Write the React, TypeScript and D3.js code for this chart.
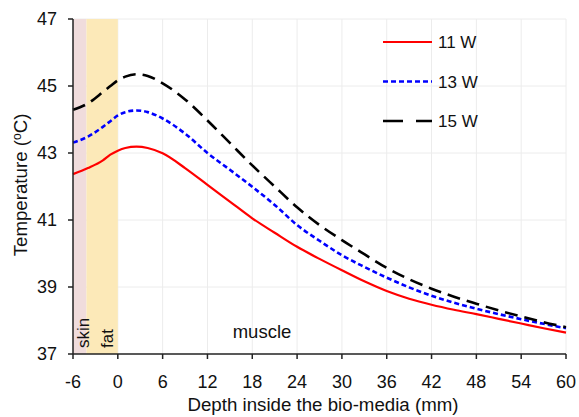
import React from "react";
import * as d3 from "d3";

const depths = [-6, -4, -2, -1, 0, 1, 2.5, 4, 6, 9, 12, 15, 18, 21, 24, 27, 30, 33, 36, 39, 42, 45, 48, 51, 54, 57, 60];
const w11 = [42.37, 42.55, 42.78, 42.95, 43.07, 43.15, 43.19, 43.15, 42.99, 42.55, 42.05, 41.55, 41.05, 40.62, 40.2, 39.84, 39.5, 39.17, 38.88, 38.65, 38.47, 38.32, 38.19, 38.05, 37.91, 37.77, 37.64];
const w13 = [43.31, 43.49, 43.78, 43.95, 44.12, 44.22, 44.27, 44.22, 44.03, 43.58, 43.0, 42.5, 41.99, 41.45, 40.85, 40.38, 39.95, 39.6, 39.28, 38.99, 38.74, 38.53, 38.35, 38.19, 38.04, 37.9, 37.77];
const w15 = [44.29, 44.48, 44.82, 45.0, 45.17, 45.28, 45.35, 45.3, 45.08, 44.6, 43.97, 43.3, 42.63, 42.0, 41.38, 40.85, 40.4, 39.98, 39.57, 39.23, 38.95, 38.71, 38.5, 38.3, 38.12, 37.95, 37.8];
const seriesNames = ["11 W", "13 W", "15 W"];
const xTicks = [-6, 0, 6, 12, 18, 24, 30, 36, 42, 48, 54, 60];
const yTicks = [37, 39, 41, 43, 45, 47];
const layers = [
  { name: "skin", from: -6, to: -4.2 },
  { name: "fat", from: -4.2, to: 0 },
];

export default function App() {
  const W = 579, H = 417;
  const x = d3.scaleLinear().domain([-6, 60]).range([73, 566]);
  const y = d3.scaleLinear().domain([37, 47]).range([354, 19]);
  const font = "Arial, 'Liberation Sans', sans-serif";
  const series = [w11, w13, w15];
  const styles = [
    { color: "#ff0000", width: 2.2, dash: "" },
    { color: "#0000ff", width: 2.6, dash: "5,3" },
    { color: "#000000", width: 2.6, dash: "13,7" },
  ];
  const line = (vals: number[]) =>
    d3.line<number>().x((_, i) => x(depths[i])).y((v) => y(v)).curve(d3.curveMonotoneX)(vals) || "";
  const bandColors = ["#f0dcdc", "#fce9b8"];
  return (
    <svg width={W} height={H} style={{ position: "absolute", left: 0, top: 0, background: "#fff" }} fontFamily={font}>
      {xTicks.filter((t) => t !== -6).map((t) => (
        <line key={"gx" + t} x1={x(t)} x2={x(t)} y1={y(47)} y2={y(37)} stroke="#ececec" strokeWidth={1} />
      ))}
      {yTicks.filter((t) => t !== 37).map((t) => (
        <line key={"gy" + t} x1={x(-6)} x2={x(60)} y1={y(t)} y2={y(t)} stroke="#ececec" strokeWidth={1} />
      ))}
      {layers.map((l, i) => (
        <rect key={l.name} x={x(l.from)} y={y(47)} width={x(l.to) - x(l.from)} height={y(37) - y(47)} fill={bandColors[i]} />
      ))}
      <text transform={`translate(89,348) rotate(-90)`} fontSize={17} fill="#111">skin</text>
      <text transform={`translate(113,348) rotate(-90)`} fontSize={17} fill="#111">fat</text>
      <text x={262} y={338} fontSize={18.5} textAnchor="middle" fill="#111">muscle</text>
      {series.map((s, i) => (
        <path key={seriesNames[i]} d={line(s)} fill="none" stroke={styles[i].color} strokeWidth={styles[i].width} strokeDasharray={styles[i].dash} />
      ))}
      <line x1={73} x2={73} y1={y(47)} y2={y(37)} stroke="#222" strokeWidth={1.5} />
      <line x1={73} x2={566} y1={y(37)} y2={y(37)} stroke="#222" strokeWidth={1.5} />
      {yTicks.map((t) => (
        <g key={"yt" + t}>
          <line x1={68} x2={73} y1={y(t)} y2={y(t)} stroke="#222" strokeWidth={1.5} />
          <text x={57} y={y(t)} dy="0.36em" textAnchor="end" fontSize={18} fill="#111">{t}</text>
        </g>
      ))}
      {xTicks.map((t) => (
        <g key={"xt" + t}>
          <line x1={x(t)} x2={x(t)} y1={y(37)} y2={y(37) + 5} stroke="#222" strokeWidth={1.5} />
          <text x={x(t)} y={388} textAnchor="middle" fontSize={18} fill="#111">{t}</text>
        </g>
      ))}
      <text x={323} y={411} textAnchor="middle" fontSize={18.7} fill="#111">Depth inside the bio-media (mm)</text>
      <text transform={`translate(27,185) rotate(-90)`} textAnchor="middle" fontSize={18.7} fill="#111">
        Temperature (<tspan dy="-6" fontSize={12}>o</tspan><tspan dy="6">C)</tspan>
      </text>
      {seriesNames.map((n, i) => {
        const ly = 42 + i * 39.5;
        return (
          <g key={"lg" + n}>
            <line x1={383} x2={432} y1={ly} y2={ly} stroke={styles[i].color} strokeWidth={styles[i].width} strokeDasharray={i === 2 ? "20,13" : styles[i].dash} />
            <text x={438} y={ly} dy="0.36em" fontSize={17} fill="#111">{n}</text>
          </g>
        );
      })}
    </svg>
  );
}
